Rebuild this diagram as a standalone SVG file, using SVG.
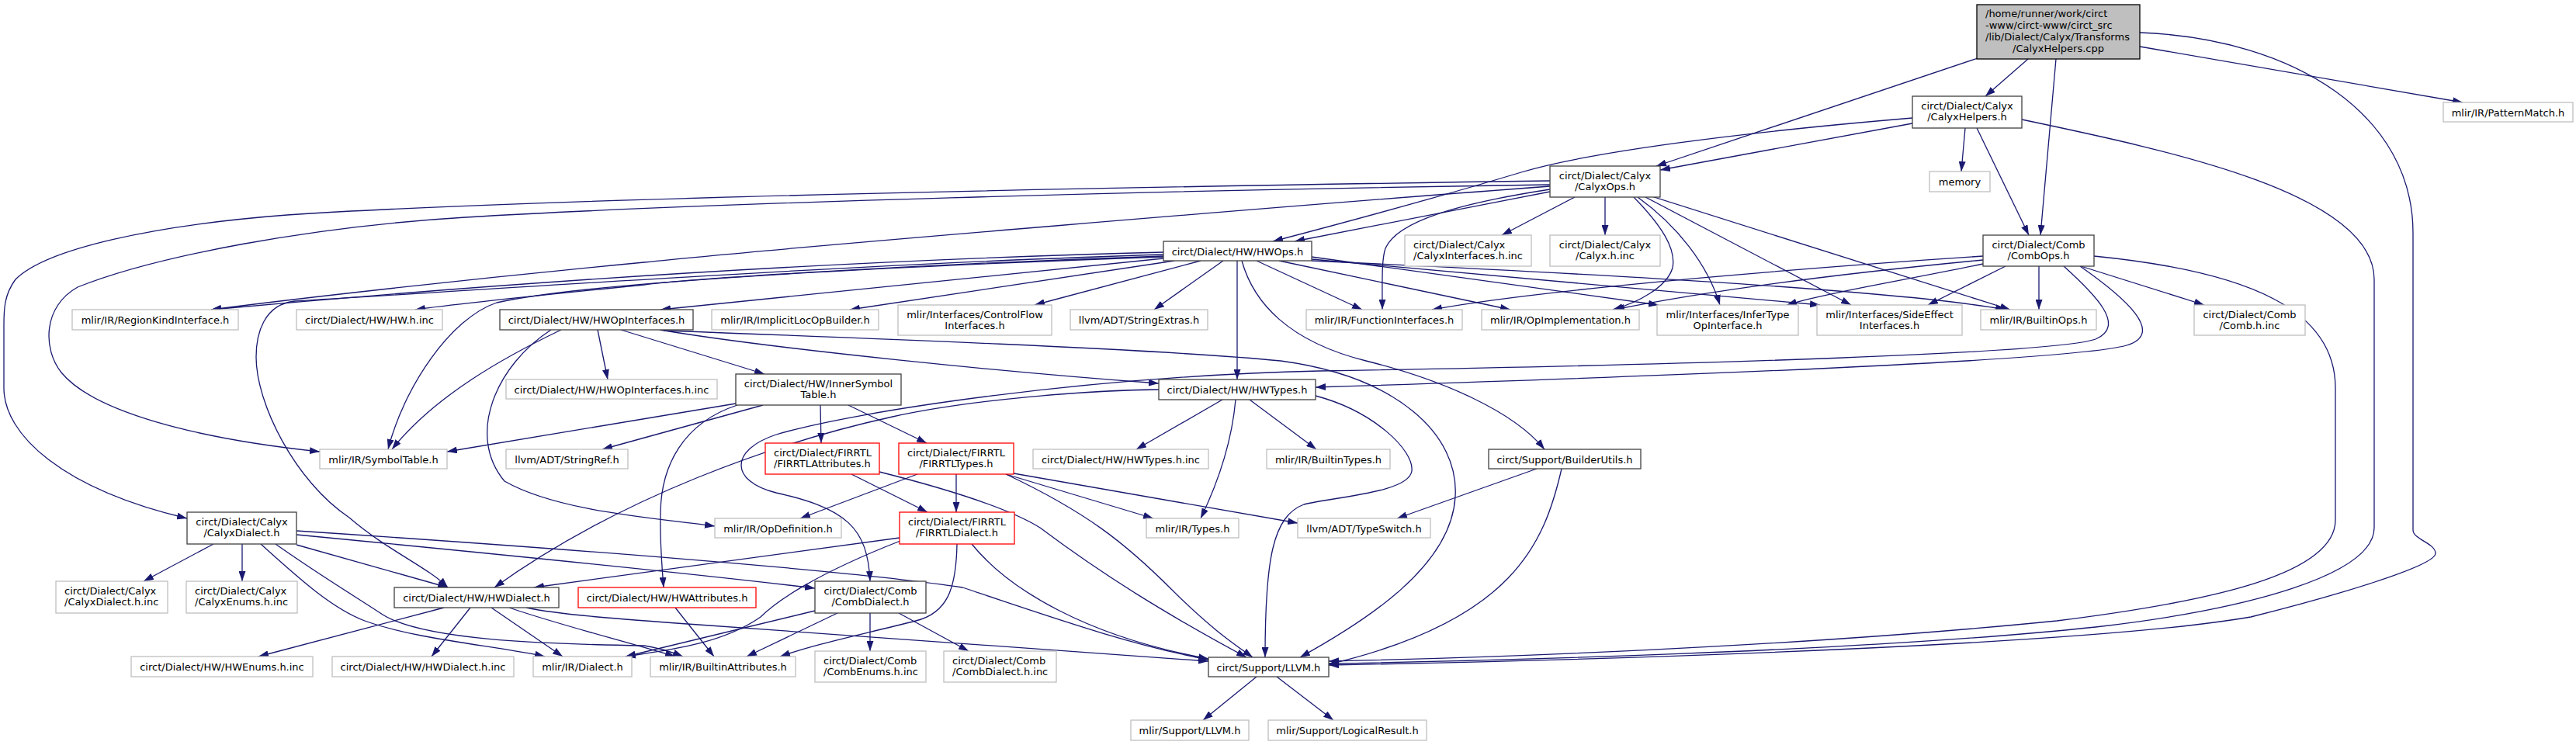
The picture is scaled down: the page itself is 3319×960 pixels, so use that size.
<svg xmlns="http://www.w3.org/2000/svg" width="3319" height="960" viewBox="0 0 3319 960">
<style>
rect{fill:#fff;stroke-width:1.3}
.k rect{stroke:#404040}
.g rect{stroke:#bfbfbf}
.r rect{stroke:#ff0000}
.root rect{fill:#bfbfbf;stroke:#000}
text{font-family:"DejaVu Sans","Liberation Sans",sans-serif;font-size:13px;fill:#000;text-anchor:middle}
text.s{text-anchor:start}
#edges path{fill:none;stroke:#191970;stroke-width:1.3;marker-end:url(#a)}
</style>
<defs>
<marker id="a" viewBox="0 0 13 9" refX="13" refY="4.5" markerWidth="13" markerHeight="9" markerUnits="userSpaceOnUse" orient="auto"><path d="M0,0L13,4.5L0,9z" fill="#191970"/></marker>
</defs>
<rect x="0" y="0" width="3319" height="960" style="fill:#fff;stroke:none"/>
<g id="edges">
<path d="M2551,74 L2134,214"/>
<path d="M2613,76 L2558,124"/>
<path d="M2649,76 L2629,303"/>
<path d="M2757,60 L3173,132"/>
<path d="M2757,42 C2960,50 3109,150 3109,300 L3109,683 C3109,695 3138,700 3138,713 C3138,730 3000,770 2900,795 C2700,830 2100,850 1712,857"/>
<path d="M2464,159 L2139,219"/>
<path d="M2464,152 C2250,170 2050,195 1960,222 C1850,255 1720,290 1640,311"/>
<path d="M1997,247 L1668,311"/>
<path d="M2532,165 L2527,221"/>
<path d="M2547,165 L2614,303"/>
<path d="M2605,154 C2800,195 3059,250 3059,360 L3059,680 C3059,740 2900,785 2700,808 C2400,840 1900,852 1712,855"/>
<path d="M1997,233 C1500,240 700,255 370,277 C200,290 60,320 20,360 C5,380 5,400 5,420 L5,500 C5,560 80,630 241,668"/>
<path d="M1997,238 C1500,245 900,262 600,280 C400,292 200,330 100,370 C55,395 55,450 79,480 C120,530 250,565 412,582"/>
<path d="M1997,240 C1700,262 1000,320 830,338 C600,360 380,385 272,399"/>
<path d="M1997,244 C1880,262 1800,285 1785,320 C1780,335 1781,360 1781,399"/>
<path d="M2029,254 L1935,303"/>
<path d="M2068,254 L2068,303"/>
<path d="M2105,254 C2140,290 2160,320 2155,345 C2148,370 2110,390 2078,399"/>
<path d="M2110,254 C2160,290 2200,340 2216,393"/>
<path d="M2120,254 L2385,393"/>
<path d="M2131,254 L2590,399"/>
<path d="M2555,330 C2400,340 2000,370 1845,399"/>
<path d="M2555,335 C2450,345 2250,365 2080,399"/>
<path d="M2555,340 C2460,360 2350,378 2302,393"/>
<path d="M2584,343 L2484,393"/>
<path d="M2627,343 L2627,399"/>
<path d="M2681,343 L2840,393"/>
<path d="M2659,343 C2700,380 2740,420 2700,437 C2650,455 2200,470 1700,478 C1400,485 1100,530 1000,560 C940,580 940,620 1000,635 C1090,655 1118,680 1121,749"/>
<path d="M2680,343 C2740,385 2790,430 2740,445 C2680,462 2300,480 1695,499"/>
<path d="M2698,330 C2900,350 3009,400 3009,500 L3009,670 C3009,740 2850,775 2650,800 C2300,835 1900,848 1712,852"/>
<path d="M1594,336 L1594,489"/>
<path d="M1576,336 L1487,399"/>
<path d="M1619,336 L1755,399"/>
<path d="M1648,336 L1946,399"/>
<path d="M1690,331 L2137,393"/>
<path d="M1690,334 L2345,393"/>
<path d="M1690,336 C2100,355 2450,375 2584,399"/>
<path d="M1547,336 L1333,393"/>
<path d="M1513,336 L1095,399"/>
<path d="M1499,333 L851,399"/>
<path d="M1499,330 C1200,340 900,358 830,367 C700,380 600,390 535,399"/>
<path d="M1499,325 C1100,335 700,360 272,399"/>
<path d="M1499,328 C1100,340 600,375 380,388 C340,392 330,430 330,460 C330,520 380,620 450,667 C500,710 550,730 577,757"/>
<path d="M1499,331 C1100,345 750,365 640,390 C580,410 520,500 500,579"/>
<path d="M770,425 L783,489"/>
<path d="M723,425 C650,460 560,510 505,579"/>
<path d="M710,425 C640,470 600,560 650,620 C720,660 850,668 921,678"/>
<path d="M800,425 L985,482"/>
<path d="M850,425 C1000,450 1300,480 1493,494"/>
<path d="M855,426 C1100,435 1500,450 1650,465 C1800,485 1880,560 1875,640 C1870,730 1760,800 1675,847"/>
<path d="M1057,522 L1058,571"/>
<path d="M1093,522 L1194,571"/>
<path d="M950,522 C880,545 852,600 851,660 C850,700 853,730 855,757"/>
<path d="M948,520 L576,582"/>
<path d="M983,522 L776,579"/>
<path d="M1575,515 L1464,579"/>
<path d="M1610,515 L1696,579"/>
<path d="M1592,515 C1588,560 1575,610 1547,668"/>
<path d="M1695,510 C1770,530 1822,580 1819,607 C1815,635 1720,640 1680,650 C1640,665 1630,720 1630,847"/>
<path d="M1493,502 C1400,503 1250,515 1150,537 C1000,570 800,640 637,757"/>
<path d="M1980,604 L1800,668"/>
<path d="M2012,604 C1990,700 1950,800 1712,856"/>
<path d="M1600,336 C1615,390 1660,440 1760,465 C1860,490 1950,530 1990,579"/>
<path d="M275,701 L185,749"/>
<path d="M312,701 L312,749"/>
<path d="M336,701 C390,750 430,785 470,800 C540,825 640,832 702,846"/>
<path d="M355,701 C410,740 460,770 490,790 C540,825 700,830 830,832 C850,835 865,840 880,846"/>
<path d="M382,702 L577,757"/>
<path d="M382,689 C600,710 900,740 1050,758"/>
<path d="M382,684 C700,705 1100,735 1240,757 C1340,790 1450,830 1557,850"/>
<path d="M572,783 L333,846"/>
<path d="M606,783 L556,846"/>
<path d="M633,783 L725,846"/>
<path d="M656,783 C720,805 800,825 870,846"/>
<path d="M678,783 C720,792 800,798 900,805 C1200,825 1400,840 1557,852"/>
<path d="M1097,611 L1195,660"/>
<path d="M1133,608 C1220,630 1300,655 1340,680 C1420,740 1500,790 1606,847"/>
<path d="M1182,611 L1031,668"/>
<path d="M1232,611 L1232,660"/>
<path d="M1296,611 L1486,668"/>
<path d="M1296,611 C1400,660 1450,700 1510,760 C1560,810 1590,830 1614,847"/>
<path d="M1306,610 L1672,674"/>
<path d="M1159,693 L688,757"/>
<path d="M1160,697 C1050,740 1000,775 980,795 C930,830 860,838 806,846"/>
<path d="M1233,701 C1232,760 1220,790 1180,800 C1100,820 1050,830 1005,846"/>
<path d="M1252,701 C1300,760 1400,820 1557,849"/>
<path d="M870,783 L920,846"/>
<path d="M1079,790 L962,846"/>
<path d="M1121,790 L1121,839"/>
<path d="M1158,790 L1248,839"/>
<path d="M1050,787 L806,846"/>
<path d="M1619,872 L1550,928"/>
<path d="M1645,872 L1718,928"/>
</g>
<g id="root" class="root"><rect x="2547" y="6" width="210" height="70"/><text class="s" x="2558" y="21.5">/home/runner/work/circt</text><text class="s" x="2558" y="36.5">-www/circt-www/circt_src</text><text class="s" x="2558" y="51.5">/lib/Dialect/Calyx/Transforms</text><text x="2652" y="66.5">/CalyxHelpers.cpp</text></g>
<g id="calyxhelpers" class="k"><rect x="2464" y="124" width="141" height="41"/><text x="2534.5" y="140.5">circt/Dialect/Calyx</text><text x="2534.5" y="155">/CalyxHelpers.h</text></g>
<g id="calyxops" class="k"><rect x="1997" y="214" width="142" height="40"/><text x="2068" y="230.5">circt/Dialect/Calyx</text><text x="2068" y="245">/CalyxOps.h</text></g>
<g id="patternmatch" class="g"><rect x="3148" y="132" width="167" height="25"/><text x="3231.5" y="149.5">mlir/IR/PatternMatch.h</text></g>
<g id="memory" class="g"><rect x="2486" y="221" width="78" height="26"/><text x="2525" y="238.5">memory</text></g>
<g id="combops" class="k"><rect x="2555" y="303" width="143" height="40"/><text x="2626.5" y="319.5">circt/Dialect/Comb</text><text x="2626.5" y="334">/CombOps.h</text></g>
<g id="hwops" class="k"><rect x="1499" y="311" width="191" height="25"/><text x="1594.5" y="328.5">circt/Dialect/HW/HWOps.h</text></g>
<g id="calyxinterfaces" class="g"><rect x="1810" y="303" width="163" height="40"/><text class="s" x="1821" y="319.5">circt/Dialect/Calyx</text><text class="s" x="1821" y="334">/CalyxInterfaces.h.inc</text></g>
<g id="calyxinc" class="g"><rect x="1997" y="303" width="142" height="40"/><text x="2068" y="319.5">circt/Dialect/Calyx</text><text x="2068" y="334">/Calyx.h.inc</text></g>
<g id="regionkind" class="g"><rect x="93" y="399" width="214" height="26"/><text x="200" y="416.5">mlir/IR/RegionKindInterface.h</text></g>
<g id="hwinc" class="g"><rect x="382" y="399" width="188" height="26"/><text x="476" y="416.5">circt/Dialect/HW/HW.h.inc</text></g>
<g id="hwopinterfaces" class="k"><rect x="644" y="399" width="249" height="26"/><text x="768.5" y="416.5">circt/Dialect/HW/HWOpInterfaces.h</text></g>
<g id="implicitloc" class="g"><rect x="917" y="399" width="215" height="26"/><text x="1024.5" y="416.5">mlir/IR/ImplicitLocOpBuilder.h</text></g>
<g id="controlflow" class="g"><rect x="1157" y="393" width="198" height="39"/><text x="1256" y="409.5">mlir/Interfaces/ControlFlow</text><text x="1256" y="424">Interfaces.h</text></g>
<g id="stringextras" class="g"><rect x="1379" y="399" width="177" height="26"/><text x="1467.5" y="416.5">llvm/ADT/StringExtras.h</text></g>
<g id="functioninterfaces" class="g"><rect x="1683" y="399" width="201" height="26"/><text x="1783.5" y="416.5">mlir/IR/FunctionInterfaces.h</text></g>
<g id="opimplementation" class="g"><rect x="1909" y="399" width="203" height="26"/><text x="2010.5" y="416.5">mlir/IR/OpImplementation.h</text></g>
<g id="infertype" class="g"><rect x="2135" y="393" width="182" height="39"/><text x="2226" y="409.5">mlir/Interfaces/InferType</text><text x="2226" y="424">OpInterface.h</text></g>
<g id="sideeffect" class="g"><rect x="2341" y="393" width="187" height="39"/><text x="2434.5" y="409.5">mlir/Interfaces/SideEffect</text><text x="2434.5" y="424">Interfaces.h</text></g>
<g id="builtinops" class="g"><rect x="2552" y="399" width="149" height="26"/><text x="2626.5" y="416.5">mlir/IR/BuiltinOps.h</text></g>
<g id="combinc" class="g"><rect x="2827" y="393" width="143" height="39"/><text x="2898.5" y="409.5">circt/Dialect/Comb</text><text x="2898.5" y="424">/Comb.h.inc</text></g>
<g id="hwopinterfacesinc" class="g"><rect x="652" y="489" width="272" height="25"/><text x="788" y="506.5">circt/Dialect/HW/HWOpInterfaces.h.inc</text></g>
<g id="innersymboltable" class="k"><rect x="948" y="482" width="213" height="40"/><text x="1054.5" y="498.5">circt/Dialect/HW/InnerSymbol</text><text x="1054.5" y="513">Table.h</text></g>
<g id="hwtypes" class="k"><rect x="1493" y="489" width="202" height="26"/><text x="1594" y="506.5">circt/Dialect/HW/HWTypes.h</text></g>
<g id="symboltable" class="g"><rect x="412" y="579" width="164" height="25"/><text x="494" y="596.5">mlir/IR/SymbolTable.h</text></g>
<g id="stringref" class="g"><rect x="652" y="579" width="157" height="25"/><text x="730.5" y="596.5">llvm/ADT/StringRef.h</text></g>
<g id="firrtlattributes" class="r"><rect x="986" y="571" width="147" height="40"/><text class="s" x="997" y="587.5">circt/Dialect/FIRRTL</text><text class="s" x="997" y="602">/FIRRTLAttributes.h</text></g>
<g id="firrtltypes" class="r"><rect x="1158" y="571" width="148" height="40"/><text x="1232" y="587.5">circt/Dialect/FIRRTL</text><text x="1232" y="602">/FIRRTLTypes.h</text></g>
<g id="hwtypesinc" class="g"><rect x="1331" y="579" width="226" height="25"/><text x="1444" y="596.5">circt/Dialect/HW/HWTypes.h.inc</text></g>
<g id="builtintypes" class="g"><rect x="1632" y="579" width="159" height="25"/><text x="1711.5" y="596.5">mlir/IR/BuiltinTypes.h</text></g>
<g id="builderutils" class="k"><rect x="1918" y="579" width="196" height="25"/><text x="2016" y="596.5">circt/Support/BuilderUtils.h</text></g>
<g id="calyxdialect" class="k"><rect x="241" y="660" width="141" height="41"/><text x="311.5" y="676.5">circt/Dialect/Calyx</text><text x="311.5" y="691">/CalyxDialect.h</text></g>
<g id="opdefinition" class="g"><rect x="921" y="668" width="163" height="25"/><text x="1002.5" y="685.5">mlir/IR/OpDefinition.h</text></g>
<g id="firrtldialect" class="r"><rect x="1159" y="660" width="148" height="41"/><text x="1233" y="676.5">circt/Dialect/FIRRTL</text><text x="1233" y="691">/FIRRTLDialect.h</text></g>
<g id="types" class="g"><rect x="1477" y="668" width="119" height="25"/><text x="1536.5" y="685.5">mlir/IR/Types.h</text></g>
<g id="typeswitch" class="g"><rect x="1672" y="668" width="171" height="25"/><text x="1757.5" y="685.5">llvm/ADT/TypeSwitch.h</text></g>
<g id="calyxdialectinc" class="g"><rect x="72" y="749" width="144" height="41"/><text class="s" x="83" y="765.5">circt/Dialect/Calyx</text><text class="s" x="83" y="780">/CalyxDialect.h.inc</text></g>
<g id="calyxenumsinc" class="g"><rect x="240" y="749" width="143" height="41"/><text class="s" x="251" y="765.5">circt/Dialect/Calyx</text><text class="s" x="251" y="780">/CalyxEnums.h.inc</text></g>
<g id="hwdialect" class="k"><rect x="508" y="757" width="212" height="26"/><text x="614" y="774.5">circt/Dialect/HW/HWDialect.h</text></g>
<g id="hwattributes" class="r"><rect x="745" y="757" width="229" height="26"/><text x="859.5" y="774.5">circt/Dialect/HW/HWAttributes.h</text></g>
<g id="combdialect" class="k"><rect x="1050" y="749" width="143" height="41"/><text x="1121.5" y="765.5">circt/Dialect/Comb</text><text x="1121.5" y="780">/CombDialect.h</text></g>
<g id="hwenumsinc" class="g"><rect x="169" y="846" width="234" height="26"/><text x="286" y="863.5">circt/Dialect/HW/HWEnums.h.inc</text></g>
<g id="hwdialectinc" class="g"><rect x="428" y="846" width="234" height="26"/><text x="545" y="863.5">circt/Dialect/HW/HWDialect.h.inc</text></g>
<g id="dialect" class="g"><rect x="687" y="846" width="127" height="26"/><text x="750.5" y="863.5">mlir/IR/Dialect.h</text></g>
<g id="builtinattributes" class="g"><rect x="838" y="846" width="187" height="26"/><text x="931.5" y="863.5">mlir/IR/BuiltinAttributes.h</text></g>
<g id="combenumsinc" class="g"><rect x="1050" y="839" width="143" height="40"/><text class="s" x="1061" y="855.5">circt/Dialect/Comb</text><text class="s" x="1061" y="870">/CombEnums.h.inc</text></g>
<g id="combdialectinc" class="g"><rect x="1216" y="839" width="145" height="40"/><text class="s" x="1227" y="855.5">circt/Dialect/Comb</text><text class="s" x="1227" y="870">/CombDialect.h.inc</text></g>
<g id="supportllvm" class="k"><rect x="1557" y="847" width="155" height="25"/><text x="1634.5" y="864.5">circt/Support/LLVM.h</text></g>
<g id="mlirllvm" class="g"><rect x="1457" y="928" width="152" height="26"/><text x="1533" y="945.5">mlir/Support/LLVM.h</text></g>
<g id="logicalresult" class="g"><rect x="1634" y="928" width="204" height="26"/><text x="1736" y="945.5">mlir/Support/LogicalResult.h</text></g>
</svg>
